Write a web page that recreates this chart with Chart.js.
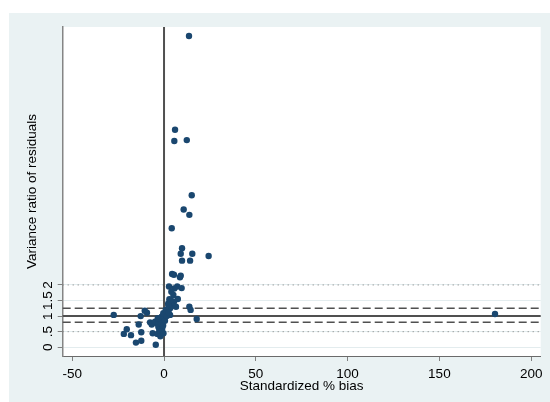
<!DOCTYPE html>
<html>
<head>
<meta charset="utf-8">
<script src="https://cdn.jsdelivr.net/npm/chart.js@4.4.1/dist/chart.umd.min.js"></script>
<style>
  body { margin: 0; background: #fff; }
  canvas { display: block; }
</style>
</head>
<body>
<canvas id="biasChart" width="550" height="402"></canvas>
<script>
// Data
const biasX = [13.6, 6.0, 5.6, 12.4, 15.1, 10.7, 13.8, 4.2, 9.8, 9.1,
    15.4, 24.3, 9.8, 14.2, 4.4, 5.4, 9.1, 8.7, 2.7, 7.2,
    5.6, 9.6, 4.0, 5.1, 2.9, 5.4, 4.2, 2.3, 3.3, 1.8,
    1.1, 0.0, -0.7, 13.8, 14.5, 17.8, 3.3, -2.2, 180.3, -27.4,
    -12.7, -10.5, -9.3, -13.8, -7.6, -6.7, -21.9, -20.3, -18.0, -12.4,
    -6.2, -15.3, -12.4, -4.5, -4.0, -3.1, -2.6, -3.6, -2.2, -1.3,
    -0.4, 0.9, 2.3, 3.6, -4.9, -2.9, -1.6, -3.4, -1.0, -0.5,
    0.5, -1.8, -2.0, 1.5, 2.5, -0.3, 6.5, 7.5];
const varRatio = [9.99, 6.98, 6.62, 6.65, 4.88, 4.42, 4.25, 3.82, 3.18, 3.00,
    3.00, 2.93, 2.78, 2.78, 2.35, 2.33, 2.30, 2.25, 1.95, 1.95,
    1.89, 1.90, 1.78, 1.68, 1.54, 1.46, 1.36, 1.41, 1.25, 1.20,
    1.09, 0.98, 0.93, 1.30, 1.20, 0.91, 1.04, 0.90, 1.07, 1.04,
    1.00, 1.17, 1.11, 0.73, 0.80, 0.73, 0.43, 0.58, 0.39, 0.48,
    0.45, 0.15, 0.21, 0.08, 0.77, 0.66, 0.56, 0.43, 0.88, 0.98,
    1.09, 1.20, 1.36, 1.52, 0.82, 0.82, 0.77, 0.93, 0.60, 0.70,
    0.85, 0.50, 0.35, 1.00, 1.12, 0.45, 1.30, 1.55];
const xTicks = [-50, 0, 50, 100, 150, 200];
const yTicks = [0, 0.5, 1, 1.5, 2];
const yTickLabels = ['0', '.5', '1', '1.5', '2'];
const refSolid = [1];
const refDashed = [0.8, 1.25];
const refDotted = [0.5, 2];
const xRef = 0;

const fontFamily = '"Liberation Sans", Arial, sans-serif';

// Background frame and plot region
const backgroundPlugin = {
    id: 'background',
    beforeDraw(chart) {
        const ctx = chart.ctx;
        const area = chart.chartArea;
        ctx.save();
        ctx.fillStyle = '#ffffff';
        ctx.fillRect(0, 0, chart.width, chart.height);
        ctx.fillStyle = '#eaf2f3';
        ctx.fillRect(9, 13, chart.width - 9, chart.height - 13);
        ctx.fillStyle = '#ffffff';
        ctx.fillRect(area.left, area.top, area.right - area.left, area.bottom - area.top);
        ctx.restore();
    }
};

// Reference lines (xline / yline)
const refLinesPlugin = {
    id: 'refLines',
    beforeDatasetsDraw(chart) {
        const ctx = chart.ctx;
        const area = chart.chartArea;
        const xs = chart.scales.x;
        const ys = chart.scales.y;
        ctx.save();

        function hLine(v, color, width, dash) {
            const py = ys.getPixelForValue(v);
            ctx.strokeStyle = color;
            ctx.lineWidth = width;
            ctx.setLineDash(dash);
            ctx.beginPath();
            ctx.moveTo(area.left, py);
            ctx.lineTo(area.right, py);
            ctx.stroke();
        }

        refDotted.forEach(v => hLine(v, '#7a7a7a', 1, [1, 4]));
        refDashed.forEach(v => hLine(v, '#505050', 1.5, [8, 4]));
        refSolid.forEach(v => hLine(v, '#505050', 2, []));

        const px = xs.getPixelForValue(xRef);
        ctx.strokeStyle = '#505050';
        ctx.lineWidth = 2;
        ctx.setLineDash([]);
        ctx.beginPath();
        ctx.moveTo(px, area.top);
        ctx.lineTo(px, area.bottom);
        ctx.stroke();
        ctx.restore();
    }
};

// Rotated y tick labels (Stata style)
const yLabelsPlugin = {
    id: 'yLabels',
    afterDraw(chart) {
        const ctx = chart.ctx;
        const ys = chart.scales.y;
        ctx.save();
        ctx.fillStyle = '#000';
        ctx.font = '13.5px ' + fontFamily;
        ctx.textAlign = 'center';
        ctx.textBaseline = 'alphabetic';
        yTicks.forEach((v, i) => {
            ctx.save();
            ctx.translate(52, ys.getPixelForValue(v));
            ctx.rotate(-Math.PI / 2);
            ctx.fillText(yTickLabels[i], 0, 0);
            ctx.restore();
        });
        ctx.restore();
    }
};

const points = biasX.map((x, i) => ({ x: x, y: varRatio[i] }));

new Chart(document.getElementById('biasChart'), {
    type: 'scatter',
    data: {
        datasets: [{
            data: points,
            backgroundColor: '#1a476f',
            borderWidth: 0,
            pointRadius: 3.2
        }]
    },
    options: {
        responsive: false,
        animation: false,
        layout: { padding: { top: 27, right: 9.3, bottom: 0, left: 0 } },
        plugins: {
            legend: { display: false },
            tooltip: { enabled: false }
        },
        scales: {
            x: {
                type: 'linear',
                min: -55.2,
                max: 205.2,
                afterBuildTicks: scale => { scale.ticks = xTicks.map(v => ({ value: v })); },
                afterFit: scale => { scale.height = 46; },
                grid: {
                    display: true,
                    drawOnChartArea: false,
                    tickLength: 5,
                    tickColor: '#808080'
                },
                border: { display: true, color: '#6a6a6a', width: 1 },
                ticks: {
                    padding: 5,
                    color: '#000',
                    font: { family: fontFamily, size: 13.5 },
                    callback: v => String(v)
                },
                title: {
                    display: true,
                    text: 'Standardized % bias',
                    color: '#000',
                    font: { family: fontFamily, size: 13.5 },
                    padding: { top: 0, bottom: 8.1 }
                }
            },
            y: {
                type: 'linear',
                min: -0.28,
                max: 10.28,
                afterBuildTicks: scale => { scale.ticks = yTicks.map(v => ({ value: v })); },
                afterFit: scale => { scale.width = 62.7; },
                grid: {
                    display: true,
                    color: '#e3ecee',
                    lineWidth: 1,
                    tickLength: 5,
                    tickColor: '#808080'
                },
                border: { display: true, color: '#858585', width: 1.5 },
                ticks: { display: false },
                title: {
                    display: true,
                    text: 'Variance ratio of residuals',
                    color: '#000',
                    font: { family: fontFamily, size: 13.5 },
                    padding: { top: 23.9, bottom: 0 }
                }
            }
        }
    },
    plugins: [backgroundPlugin, refLinesPlugin, yLabelsPlugin]
});
</script>
</body>
</html>
